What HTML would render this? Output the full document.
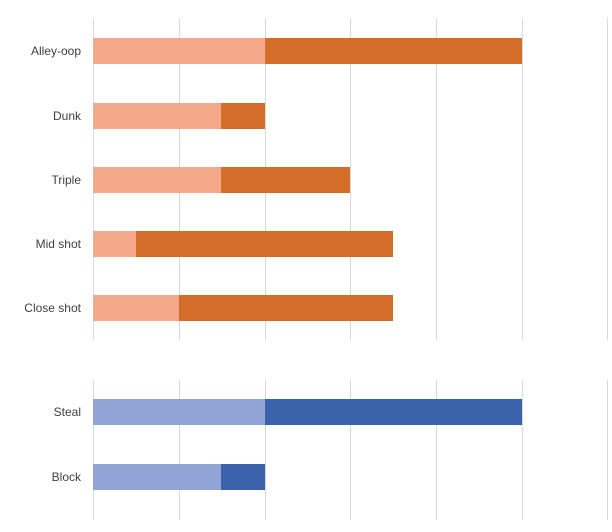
<!DOCTYPE html>
<html><head><style>
body{margin:0;background:#fff;width:612px;height:532px;overflow:hidden;position:relative;font-family:"Liberation Sans",sans-serif}
.g{position:absolute;width:1px;background:#d9d9d9}
.b{position:absolute}
.l{position:absolute;right:531px;font-size:12px;color:#404040;white-space:nowrap;line-height:14px}
</style></head><body>
<div class="g" style="left:93px;top:18px;height:322px"></div>
<div class="g" style="left:179px;top:18px;height:322px"></div>
<div class="g" style="left:265px;top:18px;height:322px"></div>
<div class="g" style="left:350px;top:18px;height:322px"></div>
<div class="g" style="left:436px;top:18px;height:322px"></div>
<div class="g" style="left:522px;top:18px;height:322px"></div>
<div class="g" style="left:607px;top:18px;height:322px"></div>
<div class="g" style="left:93px;top:380px;height:140px"></div>
<div class="g" style="left:179px;top:380px;height:140px"></div>
<div class="g" style="left:265px;top:380px;height:140px"></div>
<div class="g" style="left:350px;top:380px;height:140px"></div>
<div class="g" style="left:436px;top:380px;height:140px"></div>
<div class="g" style="left:522px;top:380px;height:140px"></div>
<div class="g" style="left:607px;top:380px;height:140px"></div>

<div class="l" style="top:44px">Alley-oop</div>
<div class="b" style="left:93px;top:38px;width:172px;height:26px;background:#F3A98A"></div>
<div class="b" style="left:265px;top:38px;width:257px;height:26px;background:#D46D29"></div>

<div class="l" style="top:109px">Dunk</div>
<div class="b" style="left:93px;top:103px;width:128px;height:26px;background:#F3A98A"></div>
<div class="b" style="left:221px;top:103px;width:44px;height:26px;background:#D46D29"></div>

<div class="l" style="top:173px">Triple</div>
<div class="b" style="left:93px;top:167px;width:128px;height:26px;background:#F3A98A"></div>
<div class="b" style="left:221px;top:167px;width:129px;height:26px;background:#D46D29"></div>

<div class="l" style="top:237px">Mid shot</div>
<div class="b" style="left:93px;top:231px;width:43px;height:26px;background:#F3A98A"></div>
<div class="b" style="left:136px;top:231px;width:257px;height:26px;background:#D46D29"></div>

<div class="l" style="top:301px">Close shot</div>
<div class="b" style="left:93px;top:295px;width:86px;height:26px;background:#F3A98A"></div>
<div class="b" style="left:179px;top:295px;width:214px;height:26px;background:#D46D29"></div>

<div class="l" style="top:405px">Steal</div>
<div class="b" style="left:93px;top:399px;width:172px;height:26px;background:#90A4D6"></div>
<div class="b" style="left:265px;top:399px;width:257px;height:26px;background:#3B63AC"></div>

<div class="l" style="top:470px">Block</div>
<div class="b" style="left:93px;top:464px;width:128px;height:26px;background:#90A4D6"></div>
<div class="b" style="left:221px;top:464px;width:44px;height:26px;background:#3B63AC"></div>
</body></html>
